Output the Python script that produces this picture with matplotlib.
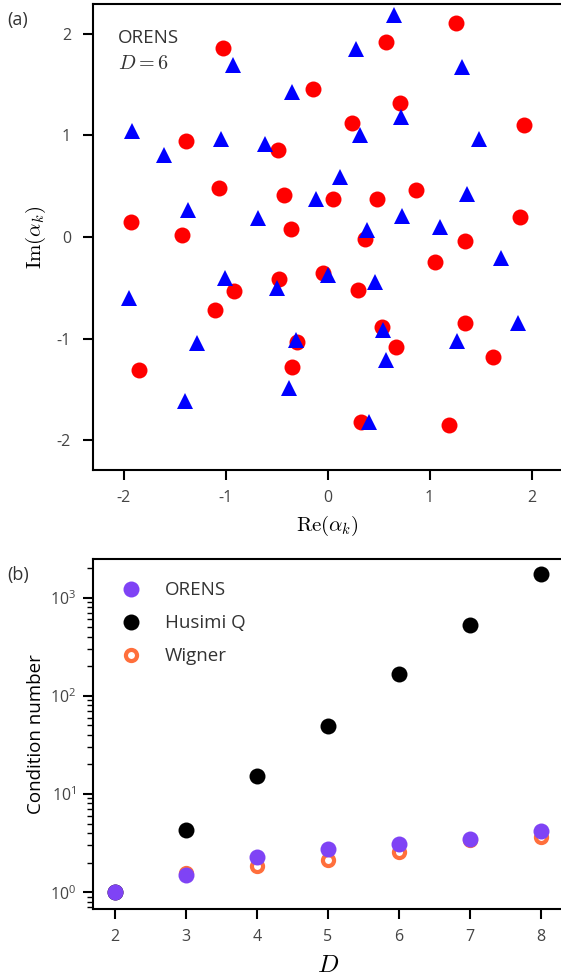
import numpy as np
import matplotlib.pyplot as plt

plt.rcParams['font.family'] = ['Open Sans', 'DejaVu Sans']
plt.rcParams['mathtext.fontset'] = 'cm'
plt.rcParams['axes.unicode_minus'] = False
plt.rcParams['axes.linewidth'] = 1.5
plt.rcParams['text.color'] = '#333333'
plt.rcParams['xtick.labelcolor'] = '#444444'
plt.rcParams['ytick.labelcolor'] = '#444444'

# panel (a): ORENS points for D = 6
re_circ = [-1.03, -0.14, -1.39, -0.49, -1.07, -0.43, 0.05, -1.93, -0.36, -1.43,
           1.26, 0.57, 0.71, 0.24, 1.93, 0.48, 0.865, 1.89, 0.37, 1.35,
           -0.915, -0.48, -1.10, -0.046, -0.30, -1.85, -0.35, 1.05, 0.295, 0.535,
           1.35, 0.67, 1.625, 0.33, 1.19]
im_circ = [1.86, 1.455, 0.95, 0.857, 0.486, 0.417, 0.377, 0.145, 0.08, 0.02,
           2.11, 1.92, 1.317, 1.12, 1.106, 0.37, 0.466, 0.197, -0.02, -0.036,
           -0.53, -0.41, -0.716, -0.35, -1.03, -1.31, -1.28, -0.243, -0.52, -0.89,
           -0.844, -1.087, -1.18, -1.82, -1.85]
re_tri = [-0.93, -0.35, -1.92, -1.05, -1.60, -0.61, -0.11, -1.37, -0.68, 0.65,
          0.275, 1.32, 0.72, 0.32, 1.48, 0.12, 1.37, 0.73, 1.10, 0.39,
          -1.01, -0.50, -1.95, 0.0, -1.28, -0.31, -0.38, -1.40, 1.70, 0.46,
          0.54, 1.87, 1.265, 0.57, 0.41]
im_tri = [1.69, 1.43, 1.04, 0.97, 0.81, 0.92, 0.377, 0.27, 0.19, 2.19,
          1.85, 1.675, 1.185, 1.005, 0.97, 0.588, 0.42, 0.21, 0.10, 0.07,
          -0.40, -0.50, -0.60, -0.374, -1.04, -1.01, -1.49, -1.62, -0.21, -0.44,
          -0.916, -0.85, -1.025, -1.21, -1.82]

# panel (b): condition numbers
D = [2, 3, 4, 5, 6, 7, 8]
orens = [1.0, 1.49, 2.29, 2.77, 3.13, 3.44, 4.18]
husimi = [1.0, 4.32, 15.1, 49.0, 165.0, 524.0, 1720.0]
wigner = [1.0, 1.55, 1.84, 2.14, 2.55, 3.37, 3.63]

fig = plt.figure(figsize=(5.61, 9.8), dpi=100)

# (a)
ax1 = fig.add_axes([0.166, 0.5199, 0.836, 0.4765])
ax1.plot(re_circ, im_circ, 'o', color='red', ms=11.5, mew=0)
ax1.plot(re_tri, im_tri, '^', color='blue', ms=12, mew=0)
ax1.set_xlim(-2.3, 2.3)
ax1.set_ylim(-2.3, 2.3)
ax1.set_xticks([-2, -1, 0, 1, 2])
ax1.set_yticks([-2, -1, 0, 1, 2])
ax1.spines['right'].set_visible(False)  # cut off by the figure edge in the original
ax1.tick_params(labelsize=11.5, length=7, width=1.5, pad=7)
ax1.tick_params(axis='y', pad=9)
ax1.set_xlabel(r'$\mathrm{Re}(\alpha_k)$', fontsize=15, labelpad=6)
ax1.set_ylabel(r'$\mathrm{Im}(\alpha_k)$', fontsize=15, labelpad=6)
ax1.text(0.053, 0.915, 'ORENS', transform=ax1.transAxes, fontsize=13.5)
ax1.text(0.053, 0.86, '$D=6$', transform=ax1.transAxes, fontsize=14.5)
fig.text(0.013, 0.975, '(a)', fontsize=13)

# (b)
ax2 = fig.add_axes([0.1663, 0.0722, 0.836, 0.3574])
ax2.plot(D, wigner, 'o', color='white', mec='#ff6f3c', ms=8, mew=3,
         label='Wigner', zorder=2)
ax2.plot(D, husimi, 'o', color='black', ms=11.5, mew=0, label='Husimi Q', zorder=3)
ax2.plot(D, orens, 'o', color='#7f43f5', ms=11.5, mew=0, label='ORENS', zorder=4)
ax2.set_yscale('log')
ax2.set_xlim(1.7, 8.3)
ax2.set_ylim(0.67, 2470)
ax2.set_xticks(D)
ax2.spines['right'].set_visible(False)
ax2.tick_params(labelsize=11.5, length=7, width=1.5, pad=7)
ax2.tick_params(axis='y', pad=5)
ax2.tick_params(which='minor', length=4, width=1)
ax2.set_xlabel('$D$', fontsize=18, labelpad=6)
ax2.set_ylabel('Condition number', fontsize=13.5, labelpad=4)
h, l = ax2.get_legend_handles_labels()
ax2.legend([h[2], h[1], h[0]], [l[2], l[1], l[0]], loc='upper left',
           frameon=False, fontsize=13.5, handletextpad=0.8, labelspacing=0.8,
           borderaxespad=0.6, bbox_to_anchor=(0.0, 0.99))
fig.text(0.013, 0.408, '(b)', fontsize=13)

fig.savefig('out.png', dpi=100)
